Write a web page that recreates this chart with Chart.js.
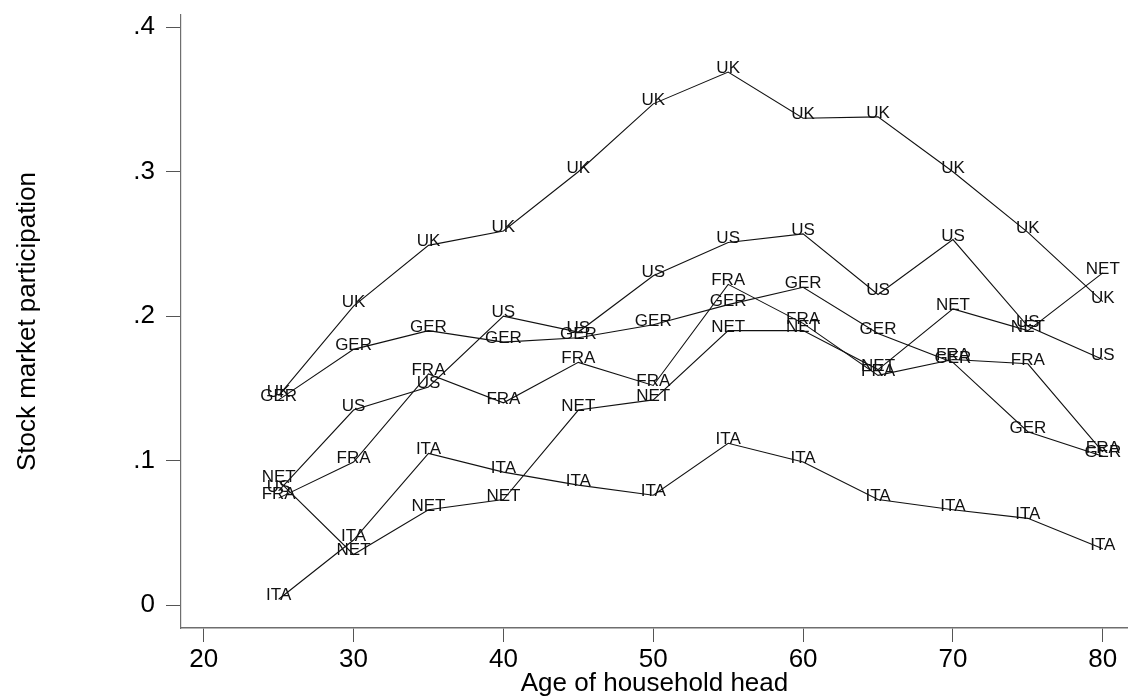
<!DOCTYPE html>
<html>
<head>
<meta charset="utf-8">
<title>Stock market participation by age</title>
<script src="https://cdn.jsdelivr.net/npm/chart.js@4.4.0/dist/chart.umd.min.js"></script>
<style>
  html, body { margin: 0; padding: 0; background: #fff; }
  canvas { display: block; }
</style>
</head>
<body>
<canvas id="myChart" width="1128" height="700"></canvas>
<script>

// Age groups (x) and participation share by country

const ages = [25, 30, 35, 40, 45, 50, 55, 60, 65, 70, 75, 80]
const countries = ["UK", "US", "GER", "FRA", "NET", "ITA"]

const uk  = [0.145, 0.207, 0.249, 0.259, 0.300, 0.347, 0.369, 0.337, 0.338, 0.300, 0.258, 0.210]
const us  = [0.079, 0.135, 0.151, 0.200, 0.189, 0.228, 0.251, 0.257, 0.215, 0.253, 0.193, 0.170]
const ger = [0.142, 0.177, 0.190, 0.182, 0.185, 0.194, 0.208, 0.220, 0.188, 0.168, 0.120, 0.103]
const fra = [0.074, 0.099, 0.160, 0.140, 0.168, 0.152, 0.222, 0.195, 0.159, 0.170, 0.167, 0.106]
const net = [0.086, 0.035, 0.066, 0.073, 0.135, 0.142, 0.190, 0.190, 0.163, 0.205, 0.190, 0.230]
const ita = [0.004, 0.045, 0.105, 0.092, 0.083, 0.076, 0.112, 0.099, 0.073, 0.066, 0.060, 0.039]

const series = [uk, us, ger, fra, net, ita]

// axis ticks
const xTicks = [20, 30, 40, 50, 60, 70, 80]
const yTicks = [0, 0.1, 0.2, 0.3, 0.4]
const yTickLabels = ["0", ".1", ".2", ".3", ".4"]

const fontFamily = '"Liberation Sans", Arial, Helvetica, sans-serif'

// each country is a plain black line, the country code is written on every point

const datasets = countries.map((name, i) => ({
    label: name,
    data: ages.map((a, j) => ({ x: a, y: series[i][j] })),
    borderColor: "#111",
    borderWidth: 1.1,
    pointRadius: 0,
    tension: 0,
    fill: false
}))

const pointLabels = {
    id: "pointLabels",
    afterDatasetsDraw(chart) {
        const ctx = chart.ctx;
        ctx.save();
        ctx.font = "17px " + fontFamily;
        ctx.fillStyle = "#111";
        ctx.textAlign = "center";
        ctx.textBaseline = "alphabetic";
        chart.data.datasets.forEach((ds, i) => {
            chart.getDatasetMeta(i).data.forEach(pt => {
                ctx.fillText(ds.label, pt.x, pt.y + 1);
            });
        });
        ctx.restore();
    }
}

const config = {
    type: "line",
    data: { datasets: datasets },
    plugins: [pointLabels],
    options: {
        responsive: false,
        animation: false,
        layout: { padding: { top: 15, right: 0, bottom: 0, left: 0 } },
        plugins: {
            legend: { display: false },
            tooltip: { enabled: false }
        },
        scales: {
            x: {
                type: "linear",
                min: 18.485,
                max: 81.682,
                afterBuildTicks: (scale) => { scale.ticks = xTicks.map(v => ({ value: v })) },
                afterFit: (scale) => {
                    scale.height = 72;
                    scale.paddingLeft = 0;
                    scale.paddingRight = 0;
                },
                ticks: {
                    color: "#000",
                    padding: 5,
                    maxRotation: 0,
                    font: { family: fontFamily, size: 26, lineHeight: 1 }
                },
                grid: {
                    drawOnChartArea: false,
                    drawTicks: true,
                    tickLength: 14,
                    color: "#555",
                    lineWidth: 1
                },
                border: { display: true, color: "#6e6e6e", width: 1.5 },
                title: {
                    display: true,
                    text: "Age of household head",
                    color: "#000",
                    padding: { top: 0, bottom: 1 },
                    font: { family: fontFamily, size: 26 }
                }
            },
            y: {
                type: "linear",
                min: -0.015925,
                max: 0.40852,
                afterBuildTicks: (scale) => { scale.ticks = yTicks.map(v => ({ value: v })) },
                afterFit: (scale) => {
                    scale.width = 181;
                    scale.paddingTop = 0;
                    scale.paddingBottom = 0;
                },
                ticks: {
                    color: "#000",
                    padding: 11,
                    font: { family: fontFamily, size: 26, lineHeight: 1 },
                    callback: (value, index) => yTickLabels[index]
                },
                grid: {
                    drawOnChartArea: false,
                    drawTicks: true,
                    tickLength: 15,
                    color: "#555",
                    lineWidth: 1
                },
                border: { display: true, color: "#6e6e6e", width: 1.2 },
                title: {
                    display: true,
                    text: "Stock market participation",
                    color: "#000",
                    padding: { top: 12, bottom: 0 },
                    font: { family: fontFamily, size: 26 }
                }
            }
        }
    }
}

const ctx = document.querySelector("#myChart");
let myChart = new Chart(ctx, config);

</script>
</body>
</html>
